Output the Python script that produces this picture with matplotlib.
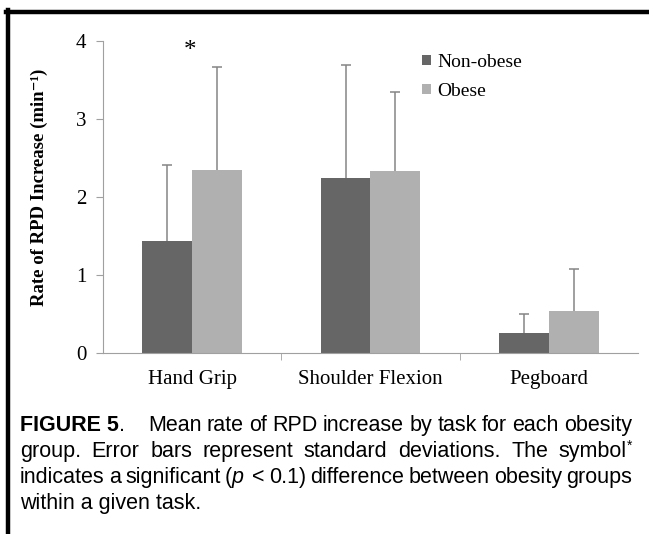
import matplotlib
matplotlib.use('Agg')
import matplotlib.pyplot as plt
import numpy as np

# Data
tasks = ['Hand Grip', 'Shoulder Flexion', 'Pegboard']
non_obese = [1.44, 2.25, 0.26]
obese = [2.35, 2.33, 0.54]
non_obese_sd = [0.97, 1.44, 0.24]
obese_sd = [1.32, 1.02, 0.54]

plt.rcParams['font.family'] = ['Liberation Serif', 'DejaVu Serif']

fig = plt.figure(figsize=(6.49, 5.34), dpi=100)
W, H = 649, 534
ax = fig.add_axes([103 / W, 181 / H, 535 / W, 312 / H])

x = np.arange(len(tasks))
w = 0.28
dark = '#666666'
light = '#b0b0b0'
ecol = '#858585'

ax.bar(x - w / 2, non_obese, w, color=dark, label='Non-obese', zorder=2)
ax.bar(x + w / 2, obese, w, color=light, label='Obese', zorder=2)
for xs, vals, sd in [(x - w / 2, non_obese, non_obese_sd), (x + w / 2, obese, obese_sd)]:
    eb = ax.errorbar(xs, vals, yerr=[np.zeros(3), sd], fmt='none', ecolor=ecol,
                     elinewidth=1.1, capsize=3.5, capthick=1.1, zorder=1)
    eb[1][0].set_visible(False)  # hide lower caps

# significance marker
ax.text(-0.01, 3.87, '*', ha='center', va='center', fontsize=18)

ax.set_xlim(-0.5, 2.5)
ax.set_ylim(0, 4)
ax.set_yticks([0, 1, 2, 3, 4])
ax.set_xticks(x)
ax.set_xticklabels(tasks, fontsize=15)
ax.set_xticks([0.5, 1.5], minor=True)
ax.tick_params(axis='x', which='major', length=0, pad=12)
ax.tick_params(axis='x', which='minor', length=5, color='#a0a0a0')
ax.tick_params(axis='y', length=5, color='#a0a0a0', labelsize=15, pad=7)
for s in ['top', 'right']:
    ax.spines[s].set_visible(False)
for s in ['left', 'bottom']:
    ax.spines[s].set_color('#a0a0a0')
ax.set_ylabel('Rate of RPD Increase (min⁻¹)', fontsize=13.5, fontweight='bold')
ax.yaxis.set_label_coords(-0.103, 0.53)

ax.legend(loc='upper left', bbox_to_anchor=(422 / W, 1 - 54 / H),
          bbox_transform=fig.transFigure, frameon=False, fontsize=14,
          handlelength=0.45, handleheight=0.45, handletextpad=0.35,
          labelspacing=0.62, borderpad=0, borderaxespad=0)

# frame lines (left and top)
fig.add_artist(plt.Line2D([8 / W, 8 / W], [0, 1 - 10 / H], color='black',
                          lw=3.2, transform=fig.transFigure))
fig.add_artist(plt.Line2D([6 / W, 1], [1 - 12 / H, 1 - 12 / H], color='black',
                          lw=3.2, transform=fig.transFigure))

# caption, justified
fig.canvas.draw()
renderer = fig.canvas.get_renderer()
cap_font = 'Liberation Sans'
cap_size = 15.5
left_px, right_px = 20, 632


def put(seg, xpx, ypx):
    size = seg[3] if len(seg) > 3 else cap_size
    return fig.text(xpx / W, 1 - ypx / H, seg[0], fontsize=size, family=cap_font,
                    fontweight=seg[1], fontstyle=seg[2], va='baseline')


N = 'normal'
lines = [
    [[('FIGURE 5', 'bold', N), ('.', N, N)], [('Mean', N, N)], [('rate', N, N)], [('of', N, N)],
     [('RPD', N, N)], [('increase', N, N)], [('by', N, N)], [('task', N, N)], [('for', N, N)],
     [('each', N, N)], [('obesity', N, N)]],
    [[('group.', N, N)], [('Error', N, N)], [('bars', N, N)], [('represent', N, N)],
     [('standard', N, N)], [('deviations.', N, N)], [('The', N, N)],
     [('symbol', N, N), ('*', N, N, 10)]],
    [[('indicates', N, N)], [('a', N, N)], [('significant', N, N)],
     [('(', N, N), ('p', N, 'italic')], [('<', N, N)], [('0.1)', N, N)],
     [('difference', N, N)], [('between', N, N)], [('obesity', N, N)], [('groups', N, N)]],
    [[('within a given task.', N, N)]],
]
extra = {(0, 0): 18, (2, 3): 4}
baselines = [431, 457, 483, 509]

for i, (words, yb) in enumerate(zip(lines, baselines)):
    widths = []
    for j, word in enumerate(words):
        tot = 0
        for seg in word:
            t = put(seg, 0, yb)
            tot += t.get_window_extent(renderer).width
            t.remove()
        widths.append(tot + extra.get((i, j), 0))
    if i < len(lines) - 1:
        gap = (right_px - left_px - sum(widths)) / (len(words) - 1)
    else:
        gap = 0
    xp = left_px
    for word, wd in zip(words, widths):
        xx = xp
        for seg in word:
            yy = yb - 7 if seg[0] == '*' else yb
            t = put(seg, xx, yy)
            xx += t.get_window_extent(renderer).width
        xp += wd + gap

fig.savefig('out.png', dpi=100)
